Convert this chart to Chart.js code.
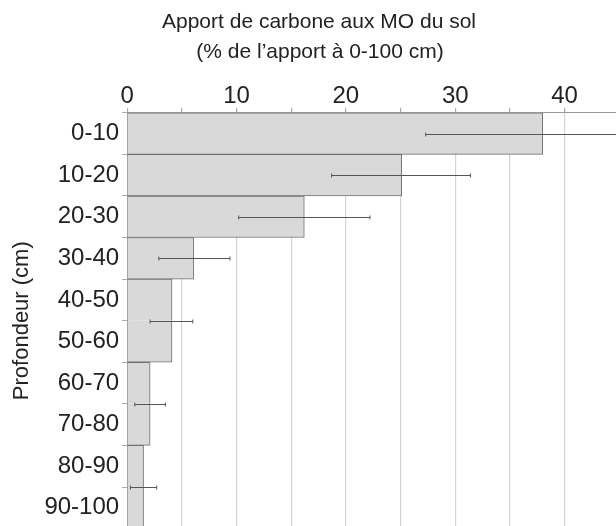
<!DOCTYPE html>
<html>
<head>
<meta charset="utf-8">
<script src="https://cdn.jsdelivr.net/npm/chart.js@4"></script>
<style>
html,body{margin:0;padding:0;background:#fff;overflow:hidden;}
#wrap{width:616px;height:546px;position:relative;}
</style>
</head>
<body>
<div id="wrap"><canvas id="c"></canvas></div>
<script>
// Depth layers (cm)
const categories = ['0-10','10-20','20-30','30-40','40-50','50-60','60-70','70-80','80-90','90-100'];
// Carbon input per layer (% of input 0-100 cm); layers below 40 cm are pooled two by two
const depthGroups = [0, 1, 2, 3, 4, 4, 5, 5, 6, 6];
const contribution = [38.0, 25.1, 16.2, 6.1, 4.1, 4.1, 2.1, 2.1, 1.5, 1.5];
// Error bars, one per group (position in category units)
const errPosition = [0, 1, 2, 3, 4.5, 6.5, 8.5];
const errLow  = [27.3, 18.7, 10.2, 2.9, 2.1, 0.7, 0.3];
const errHigh = [48.7, 31.4, 22.2, 9.4, 6.0, 3.5, 2.7];
// Axis
const xMin = 0;
const xMax = 44.7;
const xTickValues = [0, 5, 10, 15, 20, 25, 30, 35, 40];
const xLabelStep = 10;
const titleLines = ['Apport de carbone aux MO du sol', '(% de l\u2019apport \u00e0 0-100 cm)'];
const yTitle = 'Profondeur (cm)';

const FONT = "'Liberation Sans', Arial, Helvetica, sans-serif";
const TEXT = '#222222';

const borders = depthGroups.map((g, i) => ({
  top: (i > 0 && depthGroups[i - 1] === g) ? 0 : 1,
  bottom: (i < depthGroups.length - 1 && depthGroups[i + 1] === g) ? 0 : 1,
  right: 1,
  left: 0
}));

const errorBarPlugin = {
  id: 'errorBars',
  afterDatasetsDraw(chart) {
    const ctx = chart.ctx, xs = chart.scales.x, ys = chart.scales.y;
    ctx.save();
    ctx.strokeStyle = '#555555';
    ctx.lineWidth = 1;
    errPosition.forEach((p, i) => {
      const y = Math.round(ys.getPixelForValue(p)) + 0.5;
      const x1 = xs.getPixelForValue(errLow[i]);
      const x2 = xs.getPixelForValue(errHigh[i]);
      ctx.beginPath();
      ctx.moveTo(x1, y); ctx.lineTo(x2, y);
      ctx.moveTo(x1, y - 2); ctx.lineTo(x1, y + 2);
      ctx.moveTo(x2, y - 2); ctx.lineTo(x2, y + 2);
      ctx.stroke();
    });
    ctx.restore();
  }
};

const titlePlugin = {
  id: 'twoLineTitle',
  afterDraw(chart) {
    const ctx = chart.ctx;
    ctx.save();
    ctx.fillStyle = TEXT;
    ctx.font = '21px ' + FONT;
    ctx.textAlign = 'center';
    ctx.textBaseline = 'alphabetic';
    ctx.fillText(titleLines[0], 319, 28);
    ctx.fillText(titleLines[1], 320, 58);
    ctx.restore();
  }
};

new Chart(document.getElementById('c'), {
  type: 'bar',
  data: {
    labels: categories,
    datasets: [{
      data: contribution,
      backgroundColor: '#d9d9d9',
      borderColor: '#707070',
      borderWidth: borders,
      borderSkipped: false,
      barPercentage: 1,
      categoryPercentage: 1
    }]
  },
  options: {
    indexAxis: 'y',
    responsive: true,
    maintainAspectRatio: false,
    animation: false,
    layout: { padding: { top: 85, left: 9, right: 0, bottom: 2 } },
    plugins: { legend: { display: false }, tooltip: { enabled: false }, title: { display: false } },
    scales: {
      x: {
        type: 'linear',
        position: 'top',
        min: xMin,
        max: xMax,
        afterBuildTicks(scale) {
          scale.ticks = xTickValues.map(v => ({ value: v }));
        },
        ticks: {
          autoSkip: false,
          maxRotation: 0,
          padding: -3,
          color: TEXT,
          font: { family: FONT, size: 24 },
          callback: (v) => (v % xLabelStep === 0 ? String(v) : '')
        },
        grid: { color: '#d4d4d4', lineWidth: 1.2, tickLength: 5, tickColor: '#aaaaaa' },
        border: { color: '#999999', width: 1 }
      },
      y: {
        type: 'category',
        offset: true,
        ticks: { color: TEXT, font: { family: FONT, size: 24 }, padding: 3, autoSkip: false },
        grid: { offset: true, drawOnChartArea: false, tickLength: 5, color: '#aaaaaa' },
        border: { color: '#999999', width: 1 },
        title: { display: true, text: yTitle, color: TEXT, font: { family: FONT, size: 22 }, padding: { top: 0, bottom: 6 } }
      }
    }
  },
  plugins: [errorBarPlugin, titlePlugin]
});
</script>
</body>
</html>
